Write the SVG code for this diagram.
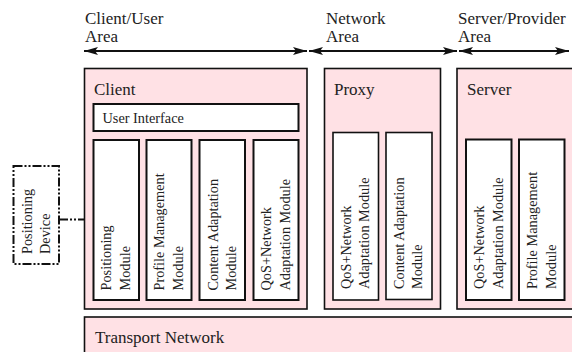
<svg xmlns="http://www.w3.org/2000/svg" width="572" height="352" viewBox="0 0 572 352">
<defs>
<style>
.area{fill:#ffe1e5;stroke:#111;stroke-width:1.6}
.mod{fill:#fff;stroke:#111;stroke-width:2}
.pmod{fill:#fff;stroke:#111;stroke-width:1.6}
text{font-family:'Liberation Serif','Times New Roman',Times,'DejaVu Serif',serif;fill:#222}
.hd{font-size:17px}
.mt{font-size:14.3px}
.arr{stroke:#111;stroke-width:2;fill:none}
.dd{stroke:#111;stroke-width:2;fill:none;stroke-dasharray:9 2 2 2 2 2}
</style>
<marker id="ah" viewBox="0 0 14 8" refX="14" refY="4" markerWidth="14" markerHeight="8" markerUnits="userSpaceOnUse" orient="auto-start-reverse">
<path d="M0,0 L14,4 L0,8 L3,4 Z" fill="#111"/>
</marker>
</defs>
<rect width="572" height="352" fill="#fff"/>
<g id="headers">
<text class="hd" x="85" y="24">Client/User</text>
<text class="hd" x="85" y="42">Area</text>
<text class="hd" x="326" y="24">Network</text>
<text class="hd" x="326" y="42">Area</text>
<text class="hd" x="458" y="24">Server/Provider</text>
<text class="hd" x="458" y="42">Area</text>
</g>
<g id="connectors">
<line class="arr" x1="84" y1="51" x2="307" y2="51" marker-start="url(#ah)" marker-end="url(#ah)"/>
<line class="arr" x1="309" y1="51" x2="457" y2="51" marker-start="url(#ah)" marker-end="url(#ah)"/>
<line class="arr" x1="459" y1="51" x2="569" y2="51" marker-start="url(#ah)" marker-end="url(#ah)"/>
<line class="dd" x1="59" y1="219.5" x2="93" y2="219.5"/>
</g>
<g id="client">
<rect class="area" x="84.5" y="68.5" width="222.5" height="240.5"/>
<text class="hd" x="94" y="95">Client</text>
<g id="user-interface">
<rect class="mod" x="93.5" y="104" width="205" height="27"/>
<text class="mt" x="102.5" y="122.5">User Interface</text>
</g>
<g id="client-positioning">
<rect class="mod" x="93.5" y="140" width="45.5" height="160"/>
<text class="mt" transform="translate(111,290.5) rotate(-90)">Positioning</text>
<text class="mt" transform="translate(129.5,290.5) rotate(-90)">Module</text>
</g>
<g id="client-profile">
<rect class="mod" x="146.5" y="140" width="45" height="160"/>
<text class="mt" transform="translate(164,290.5) rotate(-90)">Profile Management</text>
<text class="mt" transform="translate(182.5,290.5) rotate(-90)">Module</text>
</g>
<g id="client-content">
<rect class="mod" x="199.5" y="140" width="45.5" height="160"/>
<text class="mt" transform="translate(217.5,290.5) rotate(-90)">Content Adaptation</text>
<text class="mt" transform="translate(236,290.5) rotate(-90)">Module</text>
</g>
<g id="client-qos">
<rect class="mod" x="253.5" y="140" width="45" height="160"/>
<text class="mt" transform="translate(271,290.5) rotate(-90)">QoS+Network</text>
<text class="mt" transform="translate(289.5,290.5) rotate(-90)">Adaptation Module</text>
</g>
</g>
<g id="proxy">
<rect class="area" x="324.5" y="68.5" width="116" height="240.5"/>
<text class="hd" x="334" y="95">Proxy</text>
<g id="proxy-qos">
<rect class="pmod" x="333" y="132.5" width="45.5" height="167.5"/>
<text class="mt" transform="translate(350.5,289) rotate(-90)">QoS+Network</text>
<text class="mt" transform="translate(369,289) rotate(-90)">Adaptation Module</text>
</g>
<g id="proxy-content">
<rect class="pmod" x="386" y="132.5" width="46" height="167"/>
<text class="mt" transform="translate(403.5,289) rotate(-90)">Content Adaptation</text>
<text class="mt" transform="translate(422,289) rotate(-90)">Module</text>
</g>
</g>
<g id="server">
<rect class="area" x="457" y="68.5" width="125" height="240.5"/>
<text class="hd" x="467" y="95">Server</text>
<g id="server-qos">
<rect class="mod" x="466" y="139.5" width="45.5" height="160.5"/>
<text class="mt" transform="translate(484,289) rotate(-90)">QoS+Network</text>
<text class="mt" transform="translate(502.5,289) rotate(-90)">Adaptation Module</text>
</g>
<g id="server-profile">
<rect class="mod" x="519" y="139.5" width="45.5" height="160.5"/>
<text class="mt" transform="translate(537,289) rotate(-90)">Profile Management</text>
<text class="mt" transform="translate(555.5,289) rotate(-90)">Module</text>
</g>
</g>
<g id="transport">
<rect class="area" x="84.5" y="317" width="497.5" height="50"/>
<text class="hd" x="95" y="343">Transport Network</text>
</g>
<g id="positioning-device">
<rect class="dd" x="13.5" y="166" width="45.5" height="98"/>
<text class="mt" transform="translate(32,254) rotate(-90)">Positioning</text>
<text class="mt" transform="translate(50,254) rotate(-90)">Device</text>
</g>
</svg>
